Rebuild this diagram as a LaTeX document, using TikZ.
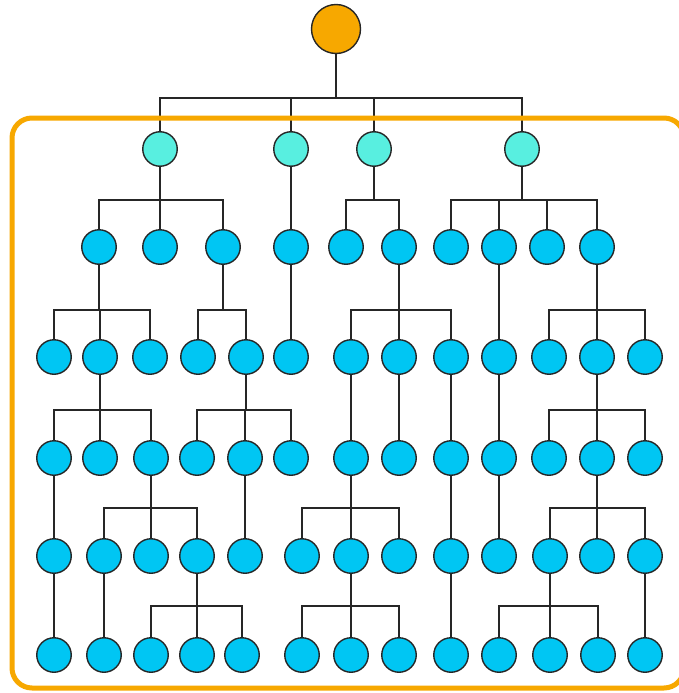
\documentclass[tikz,border=0pt]{standalone}
\usepackage{tikz}
\usetikzlibrary{positioning}
\usepackage{color}

\definecolor{rootorange}{HTML}{F7A800}
\definecolor{topteal}{HTML}{58EFE0}
\definecolor{leafblue}{HTML}{00C6F3}

\begin{document}
\begin{tikzpicture}[
        x=1pt, y=-1pt,
        vertex/.style={circle, draw=black!85, line width=1.4pt, inner sep=0pt, minimum size=34.5pt, fill=leafblue},
        top/.style={vertex, fill=topteal},
        rootv/.style={vertex, fill=rootorange, minimum size=49pt},
        edge/.style={draw, line width=1.4pt, black!85},
        frame/.style={draw=rootorange, line width=5pt, rounded corners=20pt}
    ]
        \useasboundingbox (0,0) rectangle (678,693);

        % Nodes
        \node[rootv] (r) at (336,29) {};
        \foreach \x [count=\i] in {160,291,374,522}
            \node[top] (a\i) at (\x,149) {};
        \foreach \x [count=\i] in {99,160,223,291,346,399,451,499,547,597}
            \node[vertex] (b\i) at (\x,247) {};
        \foreach \x [count=\i] in {54,100,150,198,246,291,351,399,451,499,549,597,645}
            \node[vertex] (c\i) at (\x,357) {};
        \foreach \x [count=\i] in {54,100,151,197,245,291,351,399,451,499,549,597,645}
            \node[vertex] (d\i) at (\x,458) {};
        \foreach \x [count=\i] in {54,104,151,197,245,302,351,399,451,499,550,597,645}
            \node[vertex] (e\i) at (\x,556) {};
        \foreach \x [count=\i] in {54,104,151,197,242,302,351,399,451,499,550,598,645}
            \node[vertex] (f\i) at (\x,655) {};

        % Edges
        \foreach \p/\c/\y in {r/a1/98, r/a2/98, r/a3/98, r/a4/98,
                a1/b1/200, a1/b2/200, a1/b3/200, a2/b4/200, a3/b5/200, a3/b6/200,
                a4/b7/200, a4/b8/200, a4/b9/200, a4/b10/200,
                b1/c1/310, b1/c2/310, b1/c3/310, b3/c4/310, b3/c5/310, b4/c6/310,
                b6/c7/310, b6/c8/310, b6/c9/310, b8/c10/310,
                b10/c11/310, b10/c12/310, b10/c13/310,
                c2/d1/410, c2/d2/410, c2/d3/410, c5/d4/410, c5/d5/410, c5/d6/410,
                c7/d7/410, c8/d8/410, c9/d9/410, c10/d10/410,
                c12/d11/410, c12/d12/410, c12/d13/410,
                d1/e1/508, d3/e2/508, d3/e3/508, d3/e4/508, d5/e5/508,
                d7/e6/508, d7/e7/508, d7/e8/508, d9/e9/508, d10/e10/508,
                d12/e11/508, d12/e12/508, d12/e13/508,
                e1/f1/606, e2/f2/606, e4/f3/606, e4/f4/606, e4/f5/606,
                e7/f6/606, e7/f7/606, e7/f8/606, e9/f9/606,
                e11/f10/606, e11/f11/606, e11/f12/606, e13/f13/606}
            \draw[edge] (\p) -- (\p |- 0,\y) -| (\c);

        % Frame
        \draw[frame] (12,118) rectangle (684,688);
    \end{tikzpicture}
\end{document}
